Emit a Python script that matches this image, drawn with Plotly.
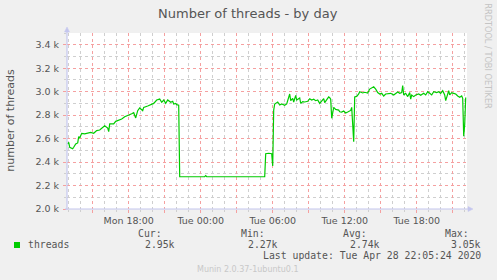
import plotly.graph_objects as go
import pandas as pd

# ---------------- data ----------------
times = [
    "2020-04-27 12:55", "2020-04-27 13:00", "2020-04-27 13:05", "2020-04-27 13:20",
    "2020-04-27 13:25", "2020-04-27 13:35", "2020-04-27 13:45", "2020-04-27 13:50",
    "2020-04-27 13:55", "2020-04-27 14:05", "2020-04-27 14:20", "2020-04-27 14:40",
    "2020-04-27 14:50", "2020-04-27 15:05", "2020-04-27 15:20", "2020-04-27 15:35",
    "2020-04-27 15:50", "2020-04-27 16:00", "2020-04-27 16:15", "2020-04-27 16:20",
    "2020-04-27 16:25", "2020-04-27 16:45", "2020-04-27 16:55", "2020-04-27 17:10",
    "2020-04-27 17:25", "2020-04-27 17:40", "2020-04-27 18:00", "2020-04-27 18:15",
    "2020-04-27 18:25", "2020-04-27 18:35", "2020-04-27 18:45", "2020-04-27 18:55",
    "2020-04-27 19:10", "2020-04-27 19:15", "2020-04-27 19:35", "2020-04-27 19:50",
    "2020-04-27 20:05", "2020-04-27 20:20", "2020-04-27 20:35", "2020-04-27 20:45",
    "2020-04-27 20:55", "2020-04-27 21:05", "2020-04-27 21:15", "2020-04-27 21:30",
    "2020-04-27 21:40", "2020-04-27 21:45", "2020-04-27 21:55", "2020-04-27 22:00",
    "2020-04-27 22:10", "2020-04-27 22:15",
    "2020-04-28 00:20", "2020-04-28 00:25", "2020-04-28 00:30", "2020-04-28 05:20",
    "2020-04-28 05:25", "2020-04-28 05:40", "2020-04-28 05:55", "2020-04-28 06:00",
    "2020-04-28 06:05", "2020-04-28 06:10", "2020-04-28 06:25", "2020-04-28 06:35",
    "2020-04-28 06:45", "2020-04-28 07:00", "2020-04-28 07:10", "2020-04-28 07:25",
    "2020-04-28 07:30", "2020-04-28 07:40", "2020-04-28 07:45", "2020-04-28 07:55",
    "2020-04-28 08:00", "2020-04-28 08:15", "2020-04-28 08:20", "2020-04-28 08:30",
    "2020-04-28 08:40", "2020-04-28 08:55", "2020-04-28 09:05", "2020-04-28 09:15",
    "2020-04-28 09:25", "2020-04-28 09:35", "2020-04-28 09:45", "2020-04-28 09:55",
    "2020-04-28 10:05", "2020-04-28 10:15", "2020-04-28 10:20", "2020-04-28 10:30",
    "2020-04-28 10:40", "2020-04-28 10:45", "2020-04-28 10:50", "2020-04-28 10:55",
    "2020-04-28 11:05", "2020-04-28 11:15", "2020-04-28 11:30", "2020-04-28 11:35",
    "2020-04-28 11:45", "2020-04-28 11:55", "2020-04-28 12:05", "2020-04-28 12:15",
    "2020-04-28 12:25", "2020-04-28 12:30", "2020-04-28 12:35", "2020-04-28 12:45",
    "2020-04-28 12:50", "2020-04-28 13:00", "2020-04-28 13:10", "2020-04-28 13:15",
    "2020-04-28 13:30", "2020-04-28 13:40", "2020-04-28 13:55", "2020-04-28 14:05",
    "2020-04-28 14:25", "2020-04-28 14:35", "2020-04-28 14:45", "2020-04-28 14:55",
    "2020-04-28 15:05", "2020-04-28 15:15", "2020-04-28 15:25", "2020-04-28 15:40",
    "2020-04-28 15:50", "2020-04-28 16:05", "2020-04-28 16:15", "2020-04-28 16:25",
    "2020-04-28 16:35", "2020-04-28 16:45", "2020-04-28 16:50", "2020-04-28 16:55",
    "2020-04-28 17:05", "2020-04-28 17:15", "2020-04-28 17:25", "2020-04-28 17:30",
    "2020-04-28 17:35", "2020-04-28 17:45", "2020-04-28 17:55", "2020-04-28 18:10",
    "2020-04-28 18:20", "2020-04-28 18:35", "2020-04-28 18:45", "2020-04-28 18:55",
    "2020-04-28 19:05", "2020-04-28 19:15", "2020-04-28 19:25", "2020-04-28 19:40",
    "2020-04-28 19:50", "2020-04-28 20:00", "2020-04-28 20:10", "2020-04-28 20:20",
    "2020-04-28 20:25", "2020-04-28 20:35", "2020-04-28 20:40", "2020-04-28 20:45",
    "2020-04-28 20:55", "2020-04-28 21:05", "2020-04-28 21:15", "2020-04-28 21:25",
    "2020-04-28 21:35", "2020-04-28 21:45", "2020-04-28 21:50", "2020-04-28 21:55",
    "2020-04-28 22:00", "2020-04-28 22:05",
]
threads = [
    2554, 2568, 2526, 2514,
    2526, 2554, 2563, 2617,
    2605, 2645, 2640, 2645,
    2653, 2645, 2668, 2673,
    2696, 2710, 2690, 2659,
    2725, 2725, 2747, 2759,
    2767, 2787, 2798, 2812,
    2821, 2776, 2838, 2861,
    2838, 2866, 2878, 2889,
    2900, 2929, 2937, 2909,
    2929, 2900, 2929, 2909,
    2918, 2895, 2900, 2889,
    2884, 2275,
    2275, 2284, 2275, 2275,
    2471, 2475, 2471, 2366,
    2843, 2895, 2912, 2886,
    2895, 2884, 2895, 2980,
    2923, 2943, 2912, 2969,
    2929, 2946, 2900, 2915,
    2912, 2918, 2940, 2929,
    2935, 2923, 2929, 2900,
    2923, 2940, 2906, 2935,
    2955, 2949, 2935, 2773,
    2866, 2849, 2843, 2829,
    2826, 2835, 2818, 2826,
    2838, 2840, 2866, 2574,
    2955, 2960, 2980, 3000,
    2989, 2995, 2989, 3022,
    3042, 3022, 2992, 2980,
    2986, 2963, 2980, 2980,
    2986, 2972, 2986, 2997,
    2986, 2992, 3051, 2972,
    2986, 2958, 2992, 2937,
    2972, 2958, 2972, 2980,
    2969, 2986, 2972, 3000,
    2986, 2972, 3000, 2992,
    3000, 2986, 3008, 2972,
    2923, 2980, 3008, 2972,
    2992, 2986, 2980, 2963,
    2952, 2963, 2943, 2620,
    2720, 2950,
]

x_tickvals = [
    "2020-04-27 15:00", "2020-04-27 18:00", "2020-04-27 21:00", "2020-04-28 00:00",
    "2020-04-28 03:00", "2020-04-28 06:00", "2020-04-28 09:00", "2020-04-28 12:00",
    "2020-04-28 15:00", "2020-04-28 18:00", "2020-04-28 21:00",
]
x_ticktext = ["", "Mon 18:00", "", "Tue 00:00", "", "Tue 06:00", "", "Tue 12:00",
              "", "Tue 18:00", ""]
y_tickvals = [2000, 2200, 2400, 2600, 2800, 3000, 3200, 3400]
y_ticktext = ["2.0 k", "2.2 k", "2.4 k", "2.6 k", "2.8 k", "3.0 k", "3.2 k", "3.4 k"]
x_range = ["2020-04-27 12:51:30", "2020-04-28 22:11:30"]
y_range = [2000, 3500]

series_name = "threads"
stat_names = ["Cur:", "Min:", "Avg:", "Max:"]
stat_values = ["2.95k", "2.27k", "2.74k", "3.05k"]
last_update = "Last update: Tue Apr 28 22:05:24 2020"

# minor grid positions (hourly / every 100), skipping the major ones
hours = pd.date_range("2020-04-27 13:00", "2020-04-28 22:00", freq="1h")
x_minor = [h.strftime("%Y-%m-%d %H:%M") for h in hours if h.hour % 3 != 0]
y_minor = [2100, 2300, 2500, 2700, 2900, 3100, 3300, 3500]

# ---------------- layout helpers ----------------
W, H = 497, 280
L, R, T, B = 67, 467, 33, 209


def px(x):
    return (x - L) / (R - L)


def py(y):
    return (B - y) / (B - T)


GREEN = "#00cc00"
TXT = "#555555"
RED_GRID = "#f5a0a0"
GRAY_GRID = "#cfcfcf"
AXIS = "#c4c6ee"

fig = go.Figure()
fig.add_trace(go.Scatter(x=times, y=threads, mode="lines", name=series_name,
                         line=dict(color=GREEN, width=1.2), showlegend=False,
                         hoverinfo="skip"))

tick_font = dict(family="DejaVu Sans", size=9.5, color=TXT)
mono = "DejaVu Sans Mono"

fig.update_layout(
    width=W, height=H,
    margin=dict(l=L, r=W - R, t=T, b=H - B, pad=0),
    paper_bgcolor="#f0f0f0", plot_bgcolor="#ffffff",
    xaxis=dict(
        type="date", range=x_range, tickmode="array",
        tickvals=x_tickvals, ticktext=x_ticktext,
        showgrid=True, gridcolor=RED_GRID, griddash="dot", gridwidth=1,
        ticks="outside", ticklen=3, tickcolor=RED_GRID, tickfont=tick_font,
        showline=False, zeroline=False,
        minor=dict(tickmode="array", tickvals=x_minor,
                   showgrid=True, gridcolor=GRAY_GRID, griddash="dot",
                   ticks="outside", ticklen=2, tickcolor=GRAY_GRID),
    ),
    yaxis=dict(
        range=y_range, tickmode="array", tickvals=y_tickvals, ticktext=y_ticktext,
        showgrid=True, gridcolor=RED_GRID, griddash="dot", gridwidth=1,
        ticks="outside", ticklen=3, tickcolor=RED_GRID, tickfont=tick_font,
        showline=False, zeroline=False, ticklabelstandoff=2,
        minor=dict(tickmode="array", tickvals=y_minor,
                   showgrid=True, gridcolor=GRAY_GRID, griddash="dot",
                   ticks="outside", ticklen=2, tickcolor=GRAY_GRID),
    ),
)

# axis lines with arrows
shapes = [
    dict(type="line", xref="paper", yref="paper", x0=px(67), x1=px(67),
         y0=py(210), y1=py(29), line=dict(color=AXIS, width=1.2)),
    dict(type="line", xref="paper", yref="paper", x0=px(65), x1=px(471),
         y0=py(209), y1=py(209), line=dict(color=AXIS, width=1.2)),
    dict(type="path", xref="paper", yref="paper",
         path=f"M {px(64.5)} {py(32)} L {px(69.5)} {py(32)} L {px(67)} {py(27)} Z",
         fillcolor=AXIS, line=dict(color=AXIS, width=0.5)),
    dict(type="path", xref="paper", yref="paper",
         path=f"M {px(468)} {py(206.5)} L {px(468)} {py(211.5)} L {px(473)} {py(209)} Z",
         fillcolor=AXIS, line=dict(color=AXIS, width=0.5)),
    # legend swatch
    dict(type="rect", xref="paper", yref="paper", x0=px(14), x1=px(20),
         y0=py(248), y1=py(242), fillcolor=GREEN, line=dict(width=0)),
]
fig.update_layout(shapes=shapes)


def ann(text, x, y, xanchor="center", yanchor="middle", size=9.8, family=mono,
        color=TXT, angle=0):
    fig.add_annotation(text=text, x=px(x), y=py(y), xref="paper", yref="paper",
                       xanchor=xanchor, yanchor=yanchor, showarrow=False,
                       textangle=angle, borderpad=0,
                       font=dict(family=family, size=size, color=color))


ann("Number of threads - by day", 248.3, 13.5, size=13, family="DejaVu Sans")
ann("number of threads", 11, 119.7, size=11, family="DejaVu Sans", angle=-90)
ann("RRDTOOL / TOBI OETIKER", 487.7, 56, size=8.2, family="DejaVu Sans",
    color="#c4c4c4", angle=90)

ann(series_name, 26.7, 244.3, xanchor="left")
stat_name_right = [163.3, 266, 368.3, 470]
stat_val_right = [176, 279.3, 380.7, 482.3]
for nm, v, xn, xv in zip(stat_names, stat_values, stat_name_right, stat_val_right):
    ann(nm, xn, 233.3, xanchor="right")
    ann(v, xv, 244.3, xanchor="right")
ann(last_update, 482.3, 255.7, xanchor="right")
ann("Munin 2.0.37-1ubuntu0.1", 247.8, 269.3, size=8, family="DejaVu Sans",
    color="#c8c8c8")

fig.write_html("out.html", config={"displayModeBar": False})
